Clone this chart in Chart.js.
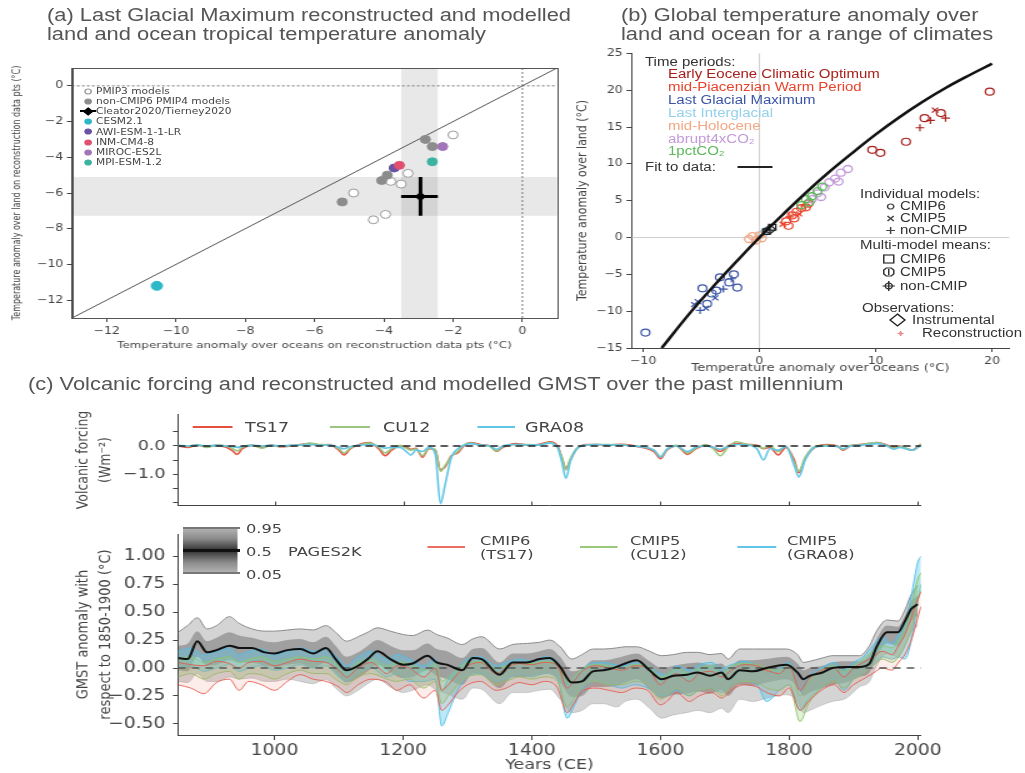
<!DOCTYPE html>
<html>
<head>
<meta charset="utf-8">
<title>Paleoclimate and last-millennium temperature anomalies</title>
<script src="https://cdn.jsdelivr.net/npm/chart.js@4.4.1/dist/chart.umd.min.js"></script>
<style>
  html, body { margin: 0; padding: 0; background: #fff; overflow: hidden; }
  #fig { position: absolute; left: 0; top: 0; height: 773px; transform-origin: 0 0; }
  #fig canvas { position: absolute; }
  .lbl { position: absolute; white-space: nowrap; }
</style>
</head>
<body>
<div id="fig"></div>
<script>
// ===================== data =====================

// (a) LGM tropical anomalies: ocean (x) vs land (y), degC
const PMIP3_X = [-2.0, -3.3, -3.8, -3.5, -4.87, -4.3, -3.95];
const PMIP3_Y = [-2.75, -4.9, -5.35, -5.5, -6.0, -7.5, -7.2];
const PMIP4_OTHER_X = [-2.8, -2.6, -4.06, -3.9, -5.2];
const PMIP4_OTHER_Y = [-3.0, -3.4, -5.3, -5.0, -6.5];
const CESM_X = [-10.55], CESM_Y = [-11.2];
const AWI_X = [-3.7], AWI_Y = [-4.6];
const INM_X = [-3.55], INM_Y = [-4.45];
const MIROC_X = [-2.3], MIROC_Y = [-3.4];
const MPI_X = [-2.6], MPI_Y = [-4.25];
// reconstruction: [low, central, high]
const RECON_OCEAN = [-3.5, -2.94, -2.44];
const RECON_LAND = [-7.28, -6.2, -5.1];
const ONE_TO_ONE = [-13, 1];
const A_TICKS = [-12, -10, -8, -6, -4, -2, 0];

// (b) land (y) vs ocean (x) anomalies for a range of climates, degC
const EECO_CMIP6_X = [9.7, 10.4, 12.6, 14.2, 15.6, 19.8];
const EECO_CMIP6_Y = [11.9, 11.5, 13.0, 16.2, 16.9, 19.8];
const EECO_CMIP5_X = [15.1];
const EECO_CMIP5_Y = [17.3];
const EECO_NONCMIP_X = [13.8, 14.7, 16.0];
const EECO_NONCMIP_Y = [14.9, 15.9, 16.2];
const MPWP_CMIP6_X = [2.3, 2.8, 3.2, 3.6, 4.2, 3.0, 2.5, 4.0];
const MPWP_CMIP6_Y = [2.2, 3.0, 3.5, 4.0, 4.6, 2.6, 1.6, 4.1];
const MPWP_CMIP5_X = [2.0, 3.4];
const MPWP_CMIP5_Y = [1.8, 3.2];
const MPWP_NONCMIP_X = [2.6, 3.9];
const MPWP_NONCMIP_Y = [2.8, 4.3];
const LGM_CMIP6_X = [-1.9, -2.6, -3.4, -4.1, -3.7, -4.9, -9.8, -4.5, -2.2];
const LGM_CMIP6_Y = [-6.8, -6.1, -5.4, -7.6, -7.2, -6.9, -12.9, -9.0, -5.0];
const LGM_CMIP5_X = [-5.3, -4.6, -3.8, -5.6];
const LGM_CMIP5_Y = [-8.7, -9.6, -8.2, -9.1];
const LGM_NONCMIP_X = [-5.1, -3.1, -2.4];
const LGM_NONCMIP_Y = [-9.9, -7.0, -5.6];
const LIG_X = [0.3, 0.6];
const LIG_Y = [0.5, 0.9];
const MH_X = [-0.6, -0.3, 0.0, -0.9, 0.2];
const MH_Y = [0.2, -0.4, 0.3, -0.2, -0.1];
const A4X_X = [4.5, 5.0, 5.6, 6.0, 6.5, 7.0, 7.6, 5.3, 6.8];
const A4X_Y = [5.2, 6.0, 6.8, 7.5, 8.0, 8.8, 9.3, 5.5, 7.6];
const PCT_X = [3.6, 4.0, 4.5, 5.0, 4.3, 5.4];
const PCT_Y = [4.4, 5.2, 5.6, 6.3, 4.8, 6.9];
const MEAN_CMIP6_X = [0.6, 1.1];
const MEAN_CMIP6_Y = [0.8, 1.4];
const OBS_INSTR_X = [0.9];
const OBS_INSTR_Y = [1.1];
const FIT_X = [-8.4, -6, -4, -2, 0, 2, 4, 6, 8, 10, 12, 14, 16, 18, 20];
const FIT_Y = [-15, -10.3, -6.7, -3.3, 0, 3.1, 6.1, 8.9, 11.5, 14.0, 16.3, 18.4, 20.3, 22.0, 23.6];
const B_XTICKS = [-10, 0, 10, 20];
const B_YTICKS = [-15, -10, -5, 0, 5, 10, 15, 20, 25];

// (c) volcanic forcing, W m-2
const V_YEARS = [
  850, 865, 880, 895, 910, 925, 935, 942, 950, 965,
  980, 995, 1010, 1025, 1040, 1055, 1070, 1085, 1100, 1108,
  1118, 1135, 1148, 1162, 1172, 1182, 1195, 1205, 1212, 1220,
  1230, 1240, 1250, 1258, 1265, 1275, 1285, 1295, 1305, 1320,
  1335, 1345, 1355, 1375, 1395, 1410, 1428, 1440, 1447, 1453,
  1460, 1470, 1485, 1500, 1520, 1540, 1555, 1570, 1590, 1600,
  1610, 1625, 1642, 1655, 1670, 1682, 1693, 1705, 1718, 1735,
  1750, 1760, 1770, 1783, 1795, 1808, 1815, 1825, 1840, 1860,
  1875, 1884, 1895, 1910, 1925, 1936, 1950, 1963, 1972, 1984,
  1992, 2000, 2005];
const TS17 = [
  0.0, -0.05, 0.03, -0.03, 0.02, -0.05, -0.18, -0.30, -0.10, 0.02,
  -0.05, 0.03, -0.03, 0.0, 0.05, 0.08, 0.03, 0.05, -0.15, -0.32,
  -0.10, 0.08, 0.12, -0.10, -0.35, -0.15, 0.0, -0.05, -0.12, -0.08,
  -0.40, -0.10, -0.15, -0.85, -0.75, -0.35, -0.25, 0.02, 0.12, 0.05,
  0.0, -0.20, -0.05, 0.08, 0.03, 0.05, 0.15, 0.0, -0.45, -0.80,
  -0.50, -0.10, 0.05, 0.05, 0.03, 0.06, 0.02, -0.05, -0.20, -0.45,
  -0.15, 0.0, -0.30, -0.10, 0.02, -0.05, -0.20, 0.0, 0.08, 0.05,
  0.02, -0.10, -0.05, -0.32, -0.05, -0.50, -0.95, -0.45, -0.05, 0.05,
  0.0, -0.15, 0.0, 0.05, 0.08, 0.12, 0.05, -0.05, 0.0, -0.12,
  -0.15, -0.02, 0.05];
const CU12 = [
  0.02, -0.02, 0.05, -0.05, 0.03, 0.0, -0.10, -0.18, -0.05, 0.03,
  -0.08, 0.02, -0.02, 0.02, 0.03, 0.10, 0.05, 0.03, -0.10, -0.25,
  -0.08, 0.05, 0.10, -0.05, -0.25, -0.10, 0.02, -0.08, -0.15, -0.10,
  -0.35, -0.08, -0.12, -0.90, -0.70, -0.38, -0.20, 0.05, 0.10, 0.03,
  -0.02, -0.18, -0.02, 0.05, 0.05, 0.03, 0.12, -0.05, -0.40, -0.85,
  -0.45, -0.08, 0.03, 0.05, 0.05, 0.04, 0.0, -0.03, -0.15, -0.38,
  -0.12, 0.02, -0.25, -0.08, 0.05, -0.10, -0.35, -0.05, 0.15, 0.05,
  0.0, -0.08, 0.0, -0.20, 0.0, -0.60, -0.90, -0.40, -0.02, 0.02,
  -0.02, -0.12, 0.02, 0.03, 0.10, 0.12, 0.03, -0.08, -0.02, -0.10,
  -0.15, -0.05, 0.08];
const GRA08 = [
  0.02, 0.0, 0.03, 0.0, 0.02, 0.0, -0.03, -0.05, -0.02, 0.02,
  0.0, 0.02, 0.0, 0.02, 0.03, 0.05, 0.02, 0.03, -0.05, -0.10,
  -0.02, 0.03, 0.05, 0.0, -0.08, -0.05, -0.05, -0.20, -0.33, -0.15,
  -0.20, -0.05, -0.30, -2.05, -1.40, -0.40, -0.10, 0.03, 0.08, 0.03,
  0.0, -0.12, 0.0, 0.05, 0.03, 0.03, 0.10, -0.05, -0.60, -1.15,
  -0.55, -0.10, 0.03, 0.05, 0.03, 0.03, 0.0, -0.03, -0.15, -0.40,
  -0.12, 0.0, -0.20, -0.05, 0.0, -0.05, -0.12, -0.02, 0.05, 0.03,
  -0.10, -0.50, -0.10, -0.15, -0.02, -0.70, -1.10, -0.50, -0.05, 0.0,
  -0.02, -0.10, 0.0, 0.02, 0.05, 0.08, 0.02, -0.12, -0.05, -0.12,
  -0.15, -0.05, 0.0];
const V_YTICKS = [0.5, 0.0, -0.5, -1.0, -1.5, -2.0];
const V_YLABELS = { '0': '0.0', '-1': '\u22121.0' };

// (c) PAGES2K GMST reconstruction quantiles, degC relative to 1850-1900
const P_YEARS = [
  850, 865, 880, 895, 910, 930, 945, 965, 985, 1000,
  1020, 1040, 1060, 1080, 1095, 1112, 1130, 1145, 1160, 1180,
  1200, 1215, 1238, 1252, 1268, 1292, 1308, 1322, 1350, 1370,
  1392, 1412, 1428, 1444, 1462, 1478, 1495, 1512, 1532, 1545,
  1563, 1583, 1602, 1620, 1641, 1658, 1677, 1695, 1705, 1723,
  1744, 1765, 1796, 1813, 1822, 1832, 1852, 1867, 1889, 1909,
  1925, 1936, 1952, 1969, 1980, 1990, 2000];
const P50 = [
  0.09, 0.08, 0.24, 0.14, 0.16, 0.20, 0.18, 0.18, 0.14, 0.13,
  0.16, 0.17, 0.13, 0.18, 0.08, -0.02, 0.02, 0.08, 0.15, 0.08,
  0.03, 0.04, 0.11, 0.05, 0.03, -0.02, 0.09, 0.08, -0.06, 0.05,
  0.05, 0.08, 0.09, 0.01, -0.13, -0.12, -0.03, -0.02, 0.01, 0.04,
  0.07, -0.02, -0.10, -0.07, -0.06, -0.04, -0.07, -0.04, -0.10, -0.02,
  -0.03, 0.00, 0.03, -0.04, -0.10, -0.07, -0.04, 0.00, 0.01, 0.01,
  0.04, 0.19, 0.32, 0.32, 0.42, 0.53, 0.57];
const P95 = [
  0.32, 0.38, 0.45, 0.35, 0.38, 0.46, 0.40, 0.35, 0.33, 0.33,
  0.34, 0.35, 0.34, 0.38, 0.32, 0.24, 0.28, 0.32, 0.36, 0.33,
  0.30, 0.29, 0.34, 0.30, 0.27, 0.21, 0.26, 0.28, 0.17, 0.21,
  0.22, 0.23, 0.25, 0.19, 0.08, 0.12, 0.17, 0.17, 0.18, 0.19,
  0.19, 0.15, 0.11, 0.12, 0.14, 0.14, 0.12, 0.13, 0.08, 0.17,
  0.17, 0.17, 0.17, 0.12, 0.05, 0.06, 0.09, 0.11, 0.11, 0.11,
  0.20, 0.33, 0.43, 0.42, 0.52, 0.66, 0.74];
const P05 = [
  -0.12, -0.13, -0.05, -0.12, -0.12, -0.08, -0.10, -0.09, -0.12, -0.12,
  -0.10, -0.12, -0.14, -0.10, -0.18, -0.25, -0.20, -0.14, -0.10, -0.17,
  -0.22, -0.20, -0.15, -0.20, -0.23, -0.28, -0.18, -0.19, -0.32, -0.22,
  -0.22, -0.20, -0.19, -0.28, -0.40, -0.38, -0.32, -0.32, -0.35, -0.30,
  -0.28, -0.36, -0.45, -0.42, -0.40, -0.38, -0.40, -0.36, -0.40, -0.28,
  -0.30, -0.27, -0.24, -0.30, -0.40, -0.38, -0.33, -0.30, -0.27, -0.17,
  -0.12, 0.02, 0.13, 0.10, 0.20, 0.32, 0.38];
const P75 = [
  0.20, 0.22, 0.33, 0.24, 0.27, 0.32, 0.29, 0.27, 0.24, 0.23,
  0.25, 0.26, 0.23, 0.28, 0.20, 0.10, 0.14, 0.20, 0.25, 0.20,
  0.16, 0.16, 0.22, 0.17, 0.15, 0.09, 0.17, 0.18, 0.05, 0.13,
  0.13, 0.15, 0.17, 0.10, -0.03, -0.01, 0.07, 0.07, 0.09, 0.11,
  0.13, 0.06, 0.00, 0.02, 0.04, 0.05, 0.03, 0.04, -0.01, 0.07,
  0.07, 0.08, 0.10, 0.04, -0.02, 0.00, 0.02, 0.05, 0.06, 0.06,
  0.12, 0.26, 0.38, 0.37, 0.47, 0.60, 0.65];
const P25 = [
  -0.02, -0.03, 0.10, 0.02, 0.03, 0.07, 0.05, 0.05, 0.02, 0.01,
  0.03, 0.04, 0.00, 0.05, -0.04, -0.13, -0.09, -0.03, 0.03, -0.04,
  -0.09, -0.08, -0.02, -0.07, -0.10, -0.15, -0.05, -0.06, -0.18, -0.08,
  -0.08, -0.06, -0.05, -0.13, -0.26, -0.25, -0.17, -0.17, -0.16, -0.13,
  -0.10, -0.19, -0.27, -0.24, -0.23, -0.21, -0.23, -0.20, -0.25, -0.15,
  -0.16, -0.13, -0.10, -0.17, -0.25, -0.22, -0.18, -0.15, -0.13, -0.08,
  -0.04, 0.10, 0.22, 0.20, 0.31, 0.42, 0.47];

// (c) model ensembles: envelope of simulated GMST, degC
const M_YEARS = [
  850, 870, 890, 910, 930, 945, 960, 980, 1000, 1020,
  1040, 1060, 1080, 1100, 1112, 1130, 1150, 1175, 1190, 1210,
  1232, 1250, 1260, 1270, 1285, 1300, 1320, 1345, 1360, 1380,
  1400, 1420, 1440, 1455, 1465, 1480, 1500, 1520, 1540, 1560,
  1580, 1600, 1610, 1625, 1645, 1660, 1680, 1695, 1710, 1730,
  1750, 1765, 1785, 1800, 1817, 1830, 1850, 1870, 1885, 1900,
  1915, 1930, 1945, 1960, 1970, 1980, 1990, 2000, 2005];
const TS17_HI = [
  0.05, 0.03, 0.02, 0.06, 0.04, 0.0, 0.05, 0.06, 0.02, 0.05,
  0.08, 0.06, 0.05, -0.02, -0.08, 0.0, 0.05, -0.05, 0.02, 0.0,
  -0.08, 0.0, -0.2, -0.15, -0.05, 0.02, 0.05, -0.05, 0.0, 0.04,
  0.03, 0.05, 0.02, -0.18, -0.12, -0.02, 0.02, 0.0, -0.02, 0.02,
  0.0, -0.15, -0.1, -0.05, -0.12, -0.05, -0.03, -0.08, -0.02, 0.03,
  0.02, -0.02, -0.05, 0.02, -0.2, -0.1, -0.02, 0.0, -0.08, 0.0,
  0.05, 0.1, 0.15, 0.12, 0.2, 0.3, 0.45, 0.62, 0.68];
const TS17_LO = [
  -0.15, -0.18, -0.23, -0.13, -0.1, -0.2, -0.12, -0.15, -0.2, -0.12,
  -0.06, -0.1, -0.12, -0.17, -0.22, -0.15, -0.1, -0.13, -0.2, -0.15,
  -0.27, -0.2, -0.38, -0.33, -0.22, -0.15, -0.12, -0.2, -0.18, -0.13,
  -0.15, -0.12, -0.18, -0.4, -0.32, -0.2, -0.18, -0.2, -0.22, -0.18,
  -0.2, -0.33, -0.3, -0.22, -0.3, -0.25, -0.22, -0.27, -0.2, -0.15,
  -0.17, -0.22, -0.25, -0.18, -0.38, -0.3, -0.2, -0.15, -0.22, -0.15,
  -0.1, -0.05, 0.0, -0.02, 0.05, 0.12, 0.25, 0.45, 0.55];
const CU12_HI = [
  0.08, 0.1, 0.05, 0.08, 0.1, 0.05, 0.08, 0.1, 0.06, 0.08,
  0.1, 0.08, 0.1, 0.02, -0.02, 0.05, 0.08, 0.02, 0.05, 0.04,
  -0.02, 0.04, -0.12, -0.08, 0.0, 0.05, 0.06, 0.0, 0.02, 0.05,
  0.04, 0.06, 0.03, -0.12, -0.08, 0.0, 0.03, 0.02, 0.0, 0.03,
  0.02, -0.08, -0.06, 0.0, -0.05, 0.0, 0.02, -0.05, 0.02, 0.04,
  0.03, 0.0, -0.02, 0.03, -0.25, -0.12, -0.02, 0.02, -0.03, 0.02,
  0.08, 0.15, 0.2, 0.18, 0.25, 0.35, 0.55, 0.8, 0.85];
const CU12_LO = [
  -0.08, -0.05, -0.1, -0.05, -0.03, -0.1, -0.05, -0.06, -0.1, -0.05,
  -0.02, -0.05, -0.05, -0.12, -0.15, -0.08, -0.05, -0.1, -0.12, -0.1,
  -0.18, -0.12, -0.32, -0.25, -0.15, -0.08, -0.06, -0.15, -0.12, -0.08,
  -0.1, -0.08, -0.12, -0.35, -0.28, -0.15, -0.12, -0.15, -0.15, -0.12,
  -0.15, -0.28, -0.25, -0.18, -0.25, -0.2, -0.18, -0.25, -0.16, -0.12,
  -0.13, -0.18, -0.2, -0.15, -0.48, -0.32, -0.18, -0.12, -0.18, -0.1,
  -0.05, 0.02, 0.08, 0.05, 0.1, 0.2, 0.35, 0.6, 0.7];
const GRA08_HI = [
  0.15, 0.18, 0.12, 0.15, 0.18, 0.12, 0.15, 0.17, 0.12, 0.15,
  0.18, 0.15, 0.17, 0.08, 0.02, 0.1, 0.15, 0.08, 0.12, 0.08,
  0.02, 0.08, -0.2, -0.1, 0.0, 0.08, 0.1, 0.02, 0.05, 0.08,
  0.06, 0.1, 0.05, -0.15, -0.1, 0.0, 0.05, 0.04, 0.02, 0.05,
  0.02, -0.05, -0.06, 0.02, -0.02, 0.03, 0.05, 0.0, 0.03, 0.06,
  0.02, -0.05, 0.0, 0.05, -0.2, -0.08, 0.0, 0.05, -0.02, 0.05,
  0.1, 0.2, 0.28, 0.22, 0.3, 0.4, 0.65, 0.95, 1.0];
const GRA08_LO = [
  0.0, 0.02, -0.03, 0.0, 0.03, -0.03, 0.0, 0.02, -0.02, 0.0,
  0.03, 0.0, 0.02, -0.08, -0.12, -0.05, 0.0, -0.08, -0.05, -0.12,
  -0.12, -0.1, -0.52, -0.4, -0.2, -0.08, -0.05, -0.12, -0.1, -0.06,
  -0.08, -0.05, -0.1, -0.45, -0.35, -0.18, -0.12, -0.15, -0.18, -0.15,
  -0.18, -0.25, -0.25, -0.2, -0.25, -0.2, -0.18, -0.22, -0.15, -0.12,
  -0.15, -0.3, -0.2, -0.15, -0.38, -0.28, -0.18, -0.1, -0.2, -0.1,
  -0.05, 0.02, 0.1, 0.08, 0.1, 0.08, 0.25, 0.6, 0.75];
const G_YTICKS = [1.0, 0.75, 0.5, 0.25, 0.0, -0.25, -0.5];
const YEAR_TICKS = [1000, 1200, 1400, 1600, 1800, 2000];
const YEAR_RANGE = [850, 2005];

// ===================== layout helpers =====================
const S = 1.25;                       // horizontal stretch of the whole figure
const fig = document.getElementById('fig');
fig.style.width = (1025 / S) + 'px';
fig.style.transform = 'scaleX(' + S + ')';

const SANS = '"Liberation Sans", Arial, sans-serif';
const DJV = '"DejaVu Sans", sans-serif';
Chart.defaults.font.family = DJV;
Chart.defaults.color = '#444';

const minus = v => (v < 0 ? '\u2212' : '') + Math.abs(v);
const minus2 = v => (v < 0 ? '\u2212' : '') + Math.abs(v).toFixed(2);
const zip = (xs, ys) => xs.slice(0, Math.min(xs.length, ys.length)).map((x, i) => ({ x, y: ys[i] }));

function text(str, x, y, size, opts = {}) {
  const d = document.createElement('div');
  d.className = 'lbl';
  d.textContent = str;
  d.style.fontFamily = opts.family || SANS;
  d.style.fontSize = size + 'px';
  d.style.lineHeight = size + 'px';
  d.style.color = opts.color || '#444';
  d.style.left = (x / S) + 'px';
  d.style.top = (y - size / 2) + 'px';
  fig.appendChild(d);
  return d;
}
function seg(x1, x2, y, color, w) {
  const d = document.createElement('div');
  d.style.position = 'absolute';
  d.style.left = (x1 / S) + 'px';
  d.style.width = ((x2 - x1) / S) + 'px';
  d.style.top = (y - w / 2) + 'px';
  d.style.height = w + 'px';
  d.style.background = color;
  fig.appendChild(d);
  return d;
}
function mark(kind, x, y, size, stroke, fill) {
  const ns = 'http://www.w3.org/2000/svg';
  const svg = document.createElementNS(ns, 'svg');
  const h = size / 2, r = size / 2 - 1;
  svg.setAttribute('width', size);
  svg.setAttribute('height', size);
  svg.style.position = 'absolute';
  svg.style.overflow = 'visible';
  svg.style.left = (x / S - h) + 'px';
  svg.style.top = (y - h) + 'px';
  const f = fill || 'none';
  const sw = 'stroke="' + stroke + '" stroke-width="1.2"';
  let g = '';
  if (kind === 'circle') g = `<circle cx="${h}" cy="${h}" r="${r}" fill="${f}" ${sw}/>`;
  if (kind === 'x') g = `<path d="M1 1L${size - 1} ${size - 1}M${size - 1} 1L1 ${size - 1}" ${sw}/>`;
  if (kind === 'plus') g = `<path d="M${h} 0V${size}M0 ${h}H${size}" ${sw}/>`;
  if (kind === 'square') g = `<rect x="1" y="1" width="${size - 2}" height="${size - 2}" fill="none" ${sw}/>`;
  if (kind === 'octo') g = `<path d="M${h * 0.6} 1H${size - h * 0.6}L${size - 1} ${h * 0.6}V${size - h * 0.6}L${size - h * 0.6} ${size - 1}H${h * 0.6}L1 ${size - h * 0.6}V${h * 0.6}Z M${h} 2V${size - 2}" fill="none" ${sw}/>`;
  if (kind === 'cplus') g = `<circle cx="${h}" cy="${h}" r="${r * 0.7}" fill="none" ${sw}/><path d="M${h} 0V${size}M0 ${h}H${size}" ${sw}/>`;
  if (kind === 'diamond') g = `<path d="M${h} 0L${size} ${h}L${h} ${size}L0 ${h}Z" fill="${f}" ${sw}/>`;
  if (kind === 'star') g = `<path d="M${h} 0V${size}M0 ${h}H${size}M1.5 1.5L${size - 1.5} ${size - 1.5}M${size - 1.5} 1.5L1.5 ${size - 1.5}" ${sw}/>`;
  svg.innerHTML = g;
  fig.appendChild(svg);
}

// box: page rect of the canvas; area: page rect of the plotting area
function makeChart(box, area, yAxisW, datasets, scales, plugins) {
  const c = document.createElement('canvas');
  const w = Math.round(box.w / S);
  c.width = w; c.height = box.h;
  c.style.left = (box.x / S) + 'px';
  c.style.top = box.y + 'px';
  c.style.width = w + 'px';
  c.style.height = box.h + 'px';
  fig.appendChild(c);
  const xAxisH = box.y + box.h - area.b;
  scales.x.afterFit = s => { s.height = xAxisH; };
  scales.y.afterFit = s => { s.width = yAxisW; };
  return new Chart(c, {
    type: 'scatter',
    data: { datasets },
    options: {
      responsive: false, animation: false, devicePixelRatio: 1, events: [],
      layout: { padding: {
        left: (area.l - box.x) / S - yAxisW,
        right: w - (area.r - box.x) / S,
        top: area.t - box.y,
        bottom: 0 } },
      plugins: { legend: { display: false }, tooltip: { enabled: false } },
      scales
    },
    plugins: plugins || []
  });
}

function axis(min, max, tickVals, fmt, o = {}) {
  const a = {
    type: 'linear', min, max,
    afterBuildTicks: s => { s.ticks = tickVals.map(v => ({ value: v })); },
    ticks: { callback: v => fmt(v), font: { size: o.fs || 10 }, color: '#444',
             padding: o.pad !== undefined ? o.pad : 3, maxRotation: 0, autoSkip: false,
             display: o.noLabels ? false : true },
    grid: { display: true, drawOnChartArea: false, drawTicks: !o.noTicks,
            tickLength: o.tl || 4, color: '#444', lineWidth: 1 },
    border: { display: true, color: o.bc || '#444', width: 1 }
  };
  if (o.title) a.title = { display: true, text: o.title, color: '#444',
    font: { size: o.tfs || 10, lineHeight: o.tlh || 1.2 },
    padding: o.tpad !== undefined ? o.tpad : { top: 4, bottom: 4 } };
  return a;
}
function line(data, color, width, extra = {}) {
  return Object.assign({ data, showLine: true, borderColor: color, backgroundColor: color,
    borderWidth: width, pointRadius: 0, fill: false }, extra);
}
function points(xs, ys, style, stroke, fill, r, bw) {
  return { data: zip(xs, ys), showLine: false, pointStyle: style, pointRadius: r,
    pointBorderColor: stroke, borderColor: stroke, pointBackgroundColor: fill,
    backgroundColor: fill, pointBorderWidth: bw || 1, borderWidth: bw || 1 };
}

// ===================== titles =====================
const TITLE = { color: '#555' };
text('(a) Last Glacial Maximum reconstructed and modelled', 47, 16, 17.5, TITLE);
text('land and ocean tropical temperature anomaly', 47, 35, 17.5, TITLE);
text('(b) Global temperature anomaly over', 621, 16, 17.5, TITLE);
text('land and ocean for a range of climates', 621, 35, 17.5, TITLE);
text('(c) Volcanic forcing and reconstructed and modelled GMST over the past millennium', 28, 385, 17.5, TITLE);

// ===================== panel (a) =====================
const A_COL = { pmip3: '#ffffff', other: '#8c8c8c', cesm: '#2cb8c8', awi: '#6a52a3',
                inm: '#e0506e', miroc: '#a274b8', mpi: '#3cb2a0' };
const reconBands = {
  id: 'reconBands',
  beforeDatasetsDraw(chart) {
    const { ctx, chartArea: a, scales: { x, y } } = chart;
    ctx.save();
    ctx.fillStyle = 'rgba(0,0,0,0.09)';
    const x1 = x.getPixelForValue(RECON_OCEAN[0]), x2 = x.getPixelForValue(RECON_OCEAN[2]);
    ctx.fillRect(x1, a.top, x2 - x1, a.bottom - a.top);
    const y1 = y.getPixelForValue(RECON_LAND[2]), y2 = y.getPixelForValue(RECON_LAND[0]);
    ctx.fillRect(a.left, y1, a.right - a.left, y2 - y1);
    ctx.restore();
  },
  afterDraw(chart) {
    const { ctx, chartArea: a } = chart;
    ctx.save();
    ctx.strokeStyle = '#555'; ctx.lineWidth = 1;
    ctx.strokeRect(Math.round(a.left) + 0.5, Math.round(a.top) + 0.5,
                   Math.round(a.right - a.left), Math.round(a.bottom - a.top));
    ctx.restore();
  }
};
makeChart({ x: 0, y: 50, w: 575, h: 305 }, { l: 72, r: 557, t: 68, b: 318 }, 52,
  [
    points(RECON_OCEAN.slice(1, 2), RECON_LAND.slice(1, 2), 'circle', '#000', '#000', 3),
    line(zip([RECON_OCEAN[0], RECON_OCEAN[2]], [RECON_LAND[1], RECON_LAND[1]]), '#000', 3),
    line(zip([RECON_OCEAN[1], RECON_OCEAN[1]], [RECON_LAND[0], RECON_LAND[2]]), '#000', 3),
    points(MPI_X, MPI_Y, 'circle', A_COL.mpi, A_COL.mpi, 4),
    points(MIROC_X, MIROC_Y, 'circle', A_COL.miroc, A_COL.miroc, 4),
    points(INM_X, INM_Y, 'circle', A_COL.inm, A_COL.inm, 4),
    points(AWI_X, AWI_Y, 'circle', A_COL.awi, A_COL.awi, 4),
    points(CESM_X, CESM_Y, 'circle', A_COL.cesm, A_COL.cesm, 4.5),
    points(PMIP4_OTHER_X, PMIP4_OTHER_Y, 'circle', '#8c8c8c', A_COL.other, 4),
    points(PMIP3_X, PMIP3_Y, 'circle', '#9a9a9a', A_COL.pmip3, 4),
    line(zip(ONE_TO_ONE, ONE_TO_ONE), '#555', 1),
    line(zip([-13, 1], [0, 0]), '#777', 1, { borderDash: [2, 2] }),
    line(zip([0, 0], [-13, 1]), '#777', 1, { borderDash: [2, 2] })
  ],
  {
    x: axis(-13, 1, A_TICKS, minus, { fs: 10, title: 'Temperature anomaly over oceans on reconstruction data pts (\u00b0C)', tfs: 9.5 }),
    y: axis(-13, 1, A_TICKS, minus, { fs: 10, title: 'Temperature anomaly over land on reconstruction data pts (\u00b0C)', tfs: 8 })
  },
  [reconBands]);

// legend (a)
const A_LEG = [
  ['PMIP3 models', 'circle', '#9a9a9a', A_COL.pmip3],
  ['non-CMIP6 PMIP4 models', 'circle', A_COL.other, A_COL.other],
  ['Cleator2020/Tierney2020', 'diamond', '#000', '#000'],
  ['CESM2.1', 'circle', A_COL.cesm, A_COL.cesm],
  ['AWI-ESM-1-1-LR', 'circle', A_COL.awi, A_COL.awi],
  ['INM-CM4-8', 'circle', A_COL.inm, A_COL.inm],
  ['MIROC-ES2L', 'circle', A_COL.miroc, A_COL.miroc],
  ['MPI-ESM-1.2', 'circle', A_COL.mpi, A_COL.mpi]
];
A_LEG.forEach((e, i) => {
  const y = 91 + i * 10.2;
  if (e[1] === 'diamond') seg(80, 96, y, '#000', 2);
  mark(e[1], 88, y, 7, e[2], e[3]);
  text(e[0], 96, y, 8.5, { family: DJV, color: '#444' });
});

// ===================== panel (b) =====================
const B_COL = { eeco: '#a8201c', mpwp: '#e8432c', lgm: '#3b55a5', lig: '#93d0ea',
                mh: '#f2a885', a4x: '#c49bd8', pct: '#5cb85c' };
const hollow = 'rgba(0,0,0,0)';
makeChart({ x: 568, y: 40, w: 457, h: 339 }, { l: 632, r: 1010, t: 53, b: 348 }, 50,
  [
    line(zip(FIT_X, FIT_Y), '#111', 2.5, { tension: 0.4 }),
    points(MEAN_CMIP6_X, MEAN_CMIP6_Y, 'rect', '#222', hollow, 4, 1.3),
    points(OBS_INSTR_X, OBS_INSTR_Y, 'rectRot', '#222', hollow, 4.5, 1.3),
    points(PCT_X, PCT_Y, 'circle', B_COL.pct, hollow, 3.5, 1.3),
    points(A4X_X, A4X_Y, 'circle', B_COL.a4x, hollow, 3.5, 1.3),
    points(MH_X, MH_Y, 'circle', B_COL.mh, hollow, 3.5, 1.3),
    points(LIG_X, LIG_Y, 'circle', B_COL.lig, hollow, 3.5, 1.3),
    points(LGM_CMIP6_X, LGM_CMIP6_Y, 'circle', B_COL.lgm, hollow, 3.5, 1.2),
    points(LGM_CMIP5_X, LGM_CMIP5_Y, 'crossRot', B_COL.lgm, hollow, 3.5, 1.2),
    points(LGM_NONCMIP_X, LGM_NONCMIP_Y, 'cross', B_COL.lgm, hollow, 3.5, 1.2),
    points(MPWP_CMIP6_X, MPWP_CMIP6_Y, 'circle', B_COL.mpwp, hollow, 3.5, 1.2),
    points(MPWP_CMIP5_X, MPWP_CMIP5_Y, 'crossRot', B_COL.mpwp, hollow, 3.5, 1.2),
    points(MPWP_NONCMIP_X, MPWP_NONCMIP_Y, 'cross', B_COL.mpwp, hollow, 3.5, 1.2),
    points(EECO_CMIP6_X, EECO_CMIP6_Y, 'circle', B_COL.eeco, hollow, 3.5, 1.2),
    points(EECO_CMIP5_X, EECO_CMIP5_Y, 'crossRot', B_COL.eeco, hollow, 3.5, 1.2),
    points(EECO_NONCMIP_X, EECO_NONCMIP_Y, 'cross', B_COL.eeco, hollow, 3.5, 1.2),
    line(zip([-11, 21.5], [0, 0]), '#cfcfcf', 1),
    line(zip([0, 0], [-15, 25]), '#cfcfcf', 1)
  ],
  {
    x: axis(-11, 21.5, B_XTICKS, minus, { fs: 10, title: 'Temperature anomaly over oceans (\u00b0C)', tfs: 10.5 }),
    y: axis(-15, 25.05, B_YTICKS, minus, { fs: 10, title: 'Temperature anomaly over land (\u00b0C)', tfs: 11 })
  });

// legend (b)
text('Time periods:', 645, 62, 12, { color: '#333' });
[
  ['Early Eocene Climatic Optimum', B_COL.eeco],
  ['mid-Piacenzian Warm Period', B_COL.mpwp],
  ['Last Glacial Maximum', B_COL.lgm],
  ['Last Interglacial', B_COL.lig],
  ['mid-Holocene', B_COL.mh],
  ['abrupt4xCO\u2082', B_COL.a4x],
  ['1pctCO\u2082', B_COL.pct]
].forEach((e, i) => text(e[0], 668, 74 + i * 12.9, 12, { color: e[1] }));
text('Fit to data:', 645, 167, 12, { color: '#333' });
seg(737, 773, 167, '#222', 2.5);

text('Individual models:', 860, 194, 12, { color: '#333' });
mark('circle', 890, 206, 7, '#444'); text('CMIP6', 900, 206, 12, { color: '#333' });
mark('x', 890, 218, 7, '#444'); text('CMIP5', 900, 218, 12, { color: '#333' });
mark('plus', 890, 230, 7, '#444'); text('non-CMIP', 900, 230, 12, { color: '#333' });
text('Multi-model means:', 860, 245, 12, { color: '#333' });
mark('square', 889, 259, 10, '#333'); text('CMIP6', 900, 259, 12, { color: '#333' });
mark('octo', 889, 272, 10, '#333'); text('CMIP5', 900, 272, 12, { color: '#333' });
mark('cplus', 889, 286, 10, '#333'); text('non-CMIP', 900, 286, 12, { color: '#333' });
text('Observations:', 862, 308, 12, { color: '#333' });
mark('diamond', 898, 320, 12, '#222'); text('Instrumental', 912, 320, 12, { color: '#333' });
mark('star', 900, 333, 5, '#f08a8a'); text('Reconstruction', 922, 333, 12, { color: '#333' });

// ===================== panel (c) top: volcanic forcing =====================
const C_COL = { ts17: '#e6513f', cu12: '#9cc47e', gra08: '#62c6e6' };
const innerTicks = {
  id: 'innerTicks',
  afterDraw(chart) {
    const { ctx, chartArea: a, scales: { x } } = chart;
    ctx.save();
    ctx.strokeStyle = '#444'; ctx.lineWidth = 1;
    YEAR_TICKS.forEach(v => {
      const px = Math.round(x.getPixelForValue(v)) + 0.5;
      ctx.beginPath(); ctx.moveTo(px, a.bottom); ctx.lineTo(px, a.bottom - 4); ctx.stroke();
    });
    ctx.restore();
  }
};
const mono = { cubicInterpolationMode: 'monotone' };
makeChart({ x: 60, y: 400, w: 900, h: 120 }, { l: 178, r: 921, t: 412, b: 519 }, 88,
  [
    line(zip(YEAR_RANGE, [0, 0]), '#222', 1.5, { borderDash: [6, 4] }),
    line(zip(V_YEARS, GRA08), C_COL.gra08, 1.6, mono),
    line(zip(V_YEARS, CU12), C_COL.cu12, 1.6, mono),
    line(zip(V_YEARS, TS17), C_COL.ts17, 1.6, mono)
  ],
  {
    x: axis(YEAR_RANGE[0], YEAR_RANGE[1], YEAR_TICKS, v => '', { noLabels: true, noTicks: true }),
    y: axis(-2.12, 1.12, V_YTICKS, v => V_YLABELS[String(v)] || '',
            { fs: 14, pad: 6, title: ['Volcanic forcing', '(Wm\u207b\u00b2)'], tfs: 12.5, tlh: 1.4 })
  },
  [innerTicks]);

text('TS17', 245, 427, 14, { family: DJV, color: '#444' });
seg(192, 232, 427, C_COL.ts17, 2);
text('CU12', 383, 427, 14, { family: DJV, color: '#444' });
seg(330, 370, 427, C_COL.cu12, 2);
text('GRA08', 525, 427, 14, { family: DJV, color: '#444' });
seg(477, 515, 427, C_COL.gra08, 2);

// ===================== panel (c) bottom: GMST =====================
makeChart({ x: 60, y: 519, w: 900, h: 254 }, { l: 178, r: 921, t: 520, b: 735 }, 89,
  [
    line(zip(P_YEARS, P95), '#8a8a8a', 1, { fill: 1, backgroundColor: 'rgba(120,120,120,0.32)', order: 10, ...mono }),
    line(zip(P_YEARS, P05), 'rgba(150,150,150,0.6)', 0.6, { order: 10, ...mono }),
    line(zip(P_YEARS, P75), 'rgba(0,0,0,0)', 0, { fill: 3, backgroundColor: 'rgba(50,50,50,0.32)', order: 9, ...mono }),
    line(zip(P_YEARS, P25), 'rgba(0,0,0,0)', 0, { order: 9, ...mono }),
    line(zip(M_YEARS, GRA08_HI), 'rgba(80,190,230,0.9)', 1, { fill: 5, backgroundColor: 'rgba(90,200,235,0.40)', order: 8, ...mono }),
    line(zip(M_YEARS, GRA08_LO), 'rgba(80,190,230,0.9)', 1, { order: 8, ...mono }),
    line(zip(M_YEARS, CU12_HI), 'rgba(140,195,105,0.9)', 1, { fill: 7, backgroundColor: 'rgba(150,205,120,0.28)', order: 7, ...mono }),
    line(zip(M_YEARS, CU12_LO), 'rgba(140,195,105,0.9)', 1, { order: 7, ...mono }),
    line(zip(M_YEARS, TS17_HI), 'rgba(230,85,70,0.85)', 1, { fill: 9, backgroundColor: 'rgba(235,110,95,0.13)', order: 6, ...mono }),
    line(zip(M_YEARS, TS17_LO), 'rgba(230,85,70,0.85)', 1, { order: 6, ...mono }),
    line(zip(YEAR_RANGE, [0, 0]), '#555', 1.5, { borderDash: [6, 5], order: 2 }),
    line(zip(P_YEARS, P50), '#111', 2, { order: 1, ...mono })
  ],
  {
    x: axis(YEAR_RANGE[0], YEAR_RANGE[1], YEAR_TICKS, v => String(v),
            { fs: 15, pad: 2, tl: 5, title: 'Years (CE)', tfs: 14, tlh: 1.0, tpad: { top: 0, bottom: 1 } }),
    y: axis(-0.6, 1.2, G_YTICKS, minus2,
            { fs: 15, pad: 6, tl: 4, title: ['GMST anomaly with', 'respect to 1850-1900 (\u00b0C)'], tfs: 13, tlh: 1.4 })
  });

// legend (c) bottom
const sw = document.createElement('div');
sw.style.position = 'absolute';
sw.style.left = (183 / S) + 'px';
sw.style.width = (54 / S) + 'px';
sw.style.top = '527px';
sw.style.height = '47px';
sw.style.background = 'linear-gradient(to bottom, #b8b8b8 0%, #8a8a8a 25%, #444 45%, #2a2a2a 50%, #444 55%, #8a8a8a 75%, #b8b8b8 100%)';
fig.appendChild(sw);
seg(183, 240, 528, '#777', 1.5);
seg(183, 240, 550, '#111', 3);
seg(183, 240, 573, '#777', 1.5);
text('0.95', 246, 528, 13, { family: DJV });
text('0.5', 246, 551, 13, { family: DJV });
text('0.05', 246, 574, 13, { family: DJV });
text('PAGES2K', 288, 551, 13, { family: DJV });
seg(427, 465, 547, 'rgba(230,85,70,0.85)', 2);
text('CMIP6', 480, 540, 13, { family: DJV });
text('(TS17)', 480, 554, 13, { family: DJV });
seg(580, 617, 547, 'rgba(140,195,105,0.9)', 2);
text('CMIP5', 630, 540, 13, { family: DJV });
text('(CU12)', 630, 554, 13, { family: DJV });
seg(738, 776, 547, 'rgba(80,190,230,0.9)', 2);
text('CMIP5', 787, 540, 13, { family: DJV });
text('(GRA08)', 787, 554, 13, { family: DJV });
</script>
</body>
</html>
